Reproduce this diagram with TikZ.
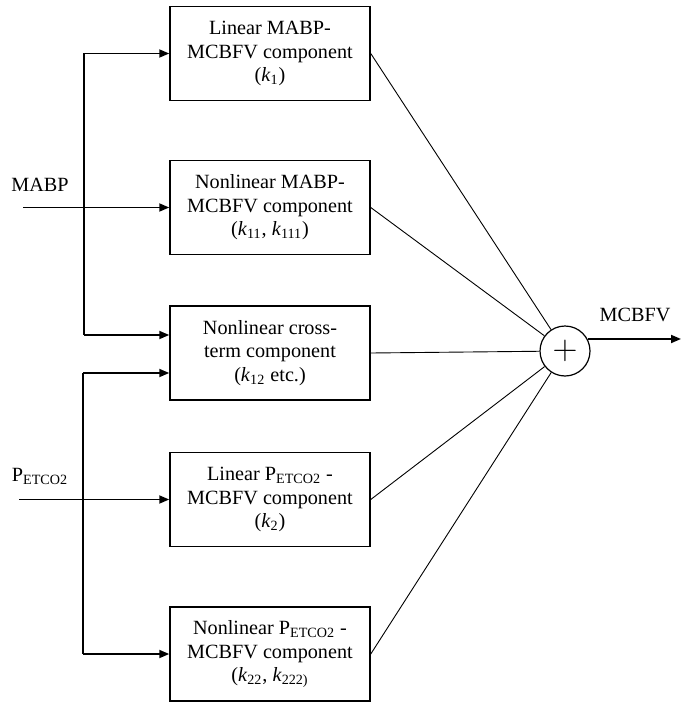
\documentclass[tikz,border=0pt]{standalone}
\usepackage{fontspec}
\setmainfont{Liberation Serif}
\usepackage{tikz}
\usetikzlibrary{arrows.meta,positioning}

\begin{document}
\begin{tikzpicture}[x=0.5pt, y=-0.5pt]
			\tikzstyle{Block}	= [draw, line width=0.75pt, minimum width=100pt, minimum height=47pt, inner sep=0pt, align=center, font=\fontsize{10.1}{11.8}\selectfont]
			\tikzstyle{Sum}		= [circle, draw, line width=0.6pt, minimum size=25pt, inner sep=0pt]
			\tikzstyle{Label}	= [font=\fontsize{10.1}{11.8}\selectfont]
			\tikzstyle{Arrow}	= [line width=0.9pt, -{Triangle[length=5pt, width=4pt]}]
			\tikzstyle{Wire}	= [line width=0.9pt]
			\tikzstyle{Thin}	= [line width=0.45pt]

			\useasboundingbox (0, 0) rectangle (693, 706);

			\node (b1) at (270, 53.5) [Block] {Linear MABP-\\MCBFV component\\(\textit{k}\textsubscript{1})};
			\node (b2) at (270, 207.5) [Block] {Nonlinear MABP-\\MCBFV component\\(\textit{k}\textsubscript{11}, \textit{k}\textsubscript{111})};
			\node (b3) at (270, 353) [Block] {Nonlinear cross-\\term component\\(\textit{k}\textsubscript{12} etc.)};
			\node (b4) at (270, 499.5) [Block] {Linear P\textsubscript{ETCO2} -\\MCBFV component\\(\textit{k}\textsubscript{2})};
			\node (b5) at (270, 654) [Block] {Nonlinear P\textsubscript{ETCO2} -\\MCBFV component\\(\textit{k}\textsubscript{22}, \textit{k}\textsubscript{222)}};

			\node (sum) at (565, 351) [Sum] {\fontsize{17}{17}\selectfont$+$};

			\node (mabp) at (40, 185) [Label] {MABP};
			\node (petco) at (40, 476) [Label] {P\textsubscript{ETCO2}};
			\node (mcbfv) at (635, 315) [Label] {MCBFV};

			\coordinate (mIn) at (23, 207.5);
			\coordinate (m1) at (84, 53.5);
			\coordinate (m3) at (84, 335);
			\coordinate (pIn) at (19, 499.5);
			\coordinate (p3) at (83, 373);
			\coordinate (p4) at (83, 499.5);
			\coordinate (p5) at (83, 654);
			\coordinate (out) at (681, 338);

			% MABP inputs
			\draw [-] (mIn) to (b2.west) [Arrow];
			\draw [-] (m1) to (m3) [Wire];
			\draw [-] (m1) to (b1.west) [Arrow];
			\draw [-] (m3) to (m3 -| b3.west) [Arrow];

			% PETCO2 inputs
			\draw [-] (pIn) to (p4) [Thin];
			\draw [-] (p3) to (p5) [Wire];
			\draw [-] (p3) to (p3 -| b3.west) [Arrow];
			\draw [-] (p4) to (b4.west) [Arrow];
			\draw [-] (p5) to (b5.west) [Arrow];

			% summation
			\draw [-] (b1.east) to (sum) [Thin];
			\draw [-] (b2.east) to (sum) [Thin];
			\draw [-] (b3.east) to (sum) [Thin];
			\draw [-] (b4.east) to (sum) [Thin];
			\draw [-] (b5.east) to (sum) [Thin];
			\draw [-] (sum.28) to (sum.28 -| out) [Arrow];
		\end{tikzpicture}
\end{document}
